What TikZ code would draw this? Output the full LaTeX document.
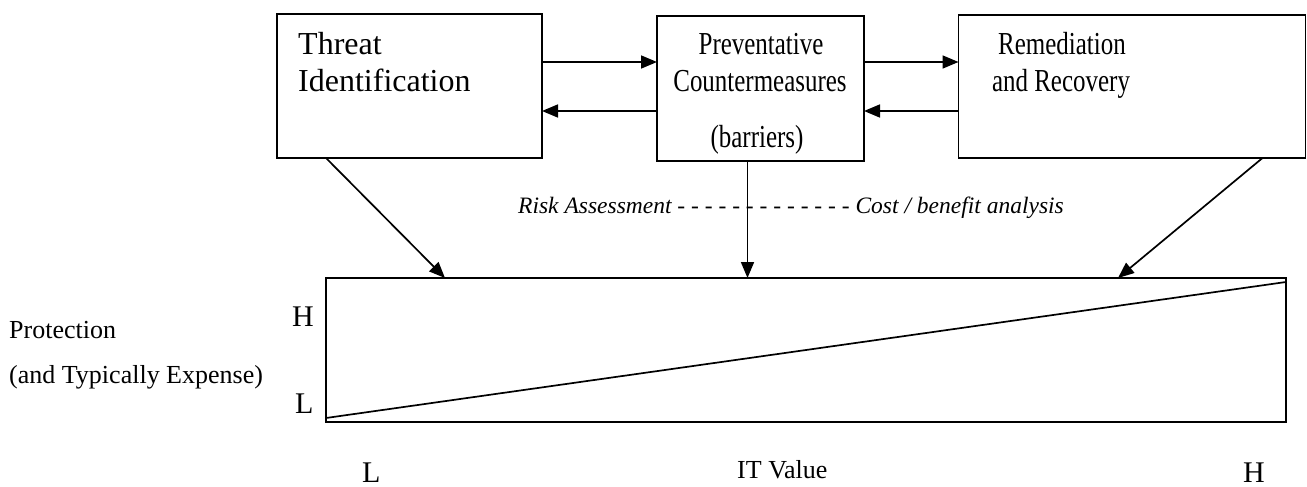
\documentclass[tikz,border=0pt]{standalone}
\usepackage{fontspec}
\setmainfont{Liberation Serif}
\newfontfamily\narrowfont{Liberation Serif}[FakeStretch=0.78]
\usetikzlibrary{arrows.meta,calc}
\tikzset{
  boxn/.style={draw, line width=1.8pt, inner sep=0pt, outer sep=0pt},
  arr/.style={line width=1.7pt, -{Triangle[length=16pt,width=13pt]}},
  plain/.style={line width=1.7pt},
  big/.style={font=\fontsize{32}{37}\selectfont, inner sep=0pt, anchor=base west},
  bign/.style={font=\narrowfont\fontsize{32}{37}\selectfont, inner sep=0pt, anchor=base},
  mid/.style={font=\fontsize{26}{30}\selectfont, inner sep=0pt, anchor=base west},
  hl/.style={font=\fontsize{30}{34}\selectfont, inner sep=0pt, anchor=base west},
  ital/.style={font=\itshape\fontsize{23.5}{27}\selectfont, inner sep=0pt, anchor=base west}
}
\begin{document}
\begin{tikzpicture}[x=1pt,y=-1pt]
\useasboundingbox (0,0) rectangle (1307,487);
% boxes
\node[boxn, minimum width=265pt, minimum height=144pt] (ti) at (409.5,86) {};
\node[boxn, minimum width=207pt, minimum height=145pt] (pc) at (760.5,88.5) {};
\node[boxn, minimum width=347pt, minimum height=143pt] (rr) at (1132,86.5) {};
\node[boxn, minimum width=960pt, minimum height=144pt] (prot) at (806,350) {};
% box texts
\node[big] (t1) at (298,55) {Threat};
\node[big] (t2) at (298,92) {Identification};
\node[bign] (p1) at (761,55) {Preventative};
\node[bign] (p2) at (760,92) {Countermeasures};
\node[bign] (p3) at (757,147) {(barriers)};
\node[bign] (r1) at (1062,55) {Remediation};
\node[bign] (r2) at (1061,92) {and Recovery};
% horizontal arrows
\coordinate (yA) at (0,62);
\coordinate (yB) at (0,111);
\draw[arr] (ti.east |- yA) -- (pc.west |- yA);
\draw[arr] (pc.west |- yB) -- (ti.east |- yB);
\draw[arr] (pc.east |- yA) -- (rr.west |- yA);
\draw[arr] (rr.west |- yB) -- (pc.east |- yB);
% risk text
\node[ital] (risk) at (518,213) {Risk Assessment - - - - - - - - - - - - - Cost / benefit analysis};
% down arrows
\coordinate (s1) at ($(ti.south west)+(49,0)$);
\coordinate (e1) at ($(prot.north west)+(119,0)$);
\draw[arr] (s1) -- (e1);
\coordinate (s2) at ($(pc.south west)+(90.5,0)$);
\draw[arr] (s2) -- (s2 |- prot.north);
\coordinate (s3) at ($(rr.south west)+(304,0)$);
\coordinate (e3) at ($(prot.north west)+(792,0)$);
\draw[arr] (s3) -- (e3);
% diagonal
\coordinate (d1) at ($(prot.south west)+(0,-4)$);
\coordinate (d2) at ($(prot.north east)+(0,4)$);
\draw[plain] (d1) -- (d2);
% axis labels
\node[mid] (pl1) at (9,338) {Protection};
\node[mid] (pl2) at (9,383) {(and Typically Expense)};
\node[hl] (hy) at (292,326) {H};
\node[hl] (ly) at (295,413) {L};
\node[hl] (lx) at (362,482) {L};
\node[mid] (itv) at (737,478) {IT Value};
\node[hl] (hx) at (1243,482) {H};
\end{tikzpicture}
\end{document}
